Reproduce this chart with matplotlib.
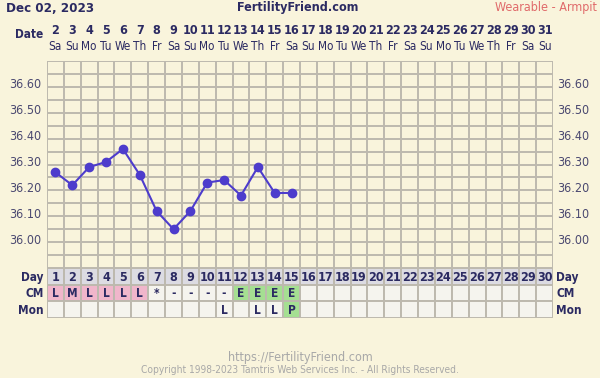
import numpy as np
import matplotlib
matplotlib.use("Agg")
import matplotlib.pyplot as plt
from matplotlib.transforms import blended_transform_factory, offset_copy
from matplotlib.patches import Rectangle

# chart data
dates = list(range(2, 32))
weekdays = ["Sa", "Su", "Mo", "Tu", "We", "Th", "Fr"] * 4 + ["Sa", "Su"]
cycle_days = list(range(1, 31))
temp_days = list(range(1, 16))
temps = [36.27, 36.22, 36.29, 36.31, 36.36, 36.26, 36.12, 36.05, 36.12,
         36.23, 36.24, 36.18, 36.29, 36.19, 36.19]
cm = ["L", "M", "L", "L", "L", "L", "*", "-", "-", "-", "-", "E", "E", "E", "E"]
mon = ["", "", "", "", "", "", "", "", "", "", "L", "", "L", "L", "P"]
ytick_vals = [36.00, 36.10, 36.20, 36.30, 36.40, 36.50, 36.60]

plt.rcParams["font.family"] = ["DejaVu Sans"]
plt.rcParams["font.stretch"] = "condensed"

W, H = 600, 378
bg = "#f9f4dc"
grid_c = "#bdb9ae"
navy = "#2b2a62"
label_c = "#4a4870"
line_c = "#4d3ccc"
pink = "#f0b6cb"
green = "#a5df92"
empty = "#f5f4ee"
dayrow = "#dcdbe2"


def fx(x):
    return x / W


def fy(y):
    return 1 - y / H


fig = plt.figure(figsize=(6, 3.78), dpi=100, facecolor=bg)

x0, x1 = 47, 553
top, mid, bot = 61, 268, 318

# temperature area
ax = fig.add_axes([fx(x0), fy(mid), (x1 - x0) / W, (mid - top) / H])
ax.set_facecolor(bg)
ax.set_xlim(0, 30)
ax.set_ylim(35.90, 36.70)
for xv in range(31):
    ax.axvline(xv, color=grid_c, lw=1.4, zorder=1)
for yv in np.arange(35.90, 36.701, 0.05):
    ax.axhline(yv, color=grid_c, lw=1.4, zorder=1)
for s in ax.spines.values():
    s.set_visible(False)
ax.set_xticks([])
ax.set_yticks([])
lt = offset_copy(ax.get_yaxis_transform(), fig=fig, x=-4, y=1.5, units="points")
rt = offset_copy(ax.get_yaxis_transform(), fig=fig, x=3, y=1.5, units="points")
for v in ytick_vals:
    ax.text(0, v, f"{v:.2f}", transform=lt, ha="right", va="center",
            fontsize=9, color=label_c)
    ax.text(1, v, f"{v:.2f}", transform=rt, ha="left", va="center",
            fontsize=9, color=label_c)
ax.plot([d - 0.5 for d in temp_days], temps, color=line_c, lw=1.5,
        marker="o", ms=6, zorder=3)

# chart table under the temps
tb = fig.add_axes([fx(x0), fy(bot), (x1 - x0) / W, (bot - mid) / H])
tb.set_xlim(0, 30)
tb.set_ylim(3, 0)
tb.axis("off")
for i, d in enumerate(cycle_days):
    tb.add_patch(Rectangle((i, 0), 1, 1, fc=dayrow, ec=grid_c, lw=1.4))
    tb.text(i + 0.5, 0.55, str(d), ha="center", va="center", fontsize=9,
            fontweight="bold", color=navy)
    c = cm[i] if i < len(cm) else ""
    m = mon[i] if i < len(mon) else ""
    cfc = pink if c in ("L", "M") else green if c == "E" else empty
    mfc = green if m == "P" else empty
    tb.add_patch(Rectangle((i, 1), 1, 1, fc=cfc, ec=grid_c, lw=1.4))
    tb.add_patch(Rectangle((i, 2), 1, 1, fc=mfc, ec=grid_c, lw=1.4))
    if c:
        tb.text(i + 0.5, 1.55, c, ha="center", va="center", fontsize=8.5,
                fontweight="bold", color=navy)
    if m:
        tb.text(i + 0.5, 2.55, m, ha="center", va="center", fontsize=8.5,
                fontweight="bold", color=navy)
for j, name in enumerate(["Day", "CM", "Mon"]):
    tb.text(-0.2, j + 0.55, name, ha="right", va="center", fontsize=8.5,
            fontweight="bold", color=navy)
    tb.text(30.2, j + 0.55, name, ha="left", va="center", fontsize=8.5,
            fontweight="bold", color=navy)

# date header
tr = blended_transform_factory(ax.transData, fig.transFigure)
for i, (d, wd) in enumerate(zip(dates, weekdays)):
    ax.text(i + 0.5, fy(30), str(d), transform=tr, ha="center", va="center",
            fontsize=9, fontweight="bold", color=navy)
    ax.text(i + 0.5, fy(46), wd, transform=tr, ha="center", va="center",
            fontsize=8.5, color=navy)
fig.text(fx(43), fy(34), "Date", ha="right", va="center", fontsize=8.5,
         fontweight="bold", color=navy)

# titles
fig.text(fx(6), fy(8), "Dec 02, 2023", ha="left", va="center", fontsize=9.5,
         fontweight="bold", color=navy)
fig.text(fx(298), fy(8), "FertilityFriend.com", ha="center", va="center",
         fontsize=9, fontweight="bold", color=navy)
fig.text(fx(597), fy(8), "Wearable - Armpit", ha="right", va="center",
         fontsize=9, color="#e06a6a")

# footer
fig.text(fx(300), fy(357), "https://FertilityFriend.com", ha="center",
         va="center", fontsize=9, color="#a8a8a8")
fig.text(fx(300), fy(370), "Copyright 1998-2023 Tamtris Web Services Inc. - All Rights Reserved.",
         ha="center", va="center", fontsize=7.3, color="#a8a8a8")

fig.savefig("out.png", dpi=100, facecolor=bg)
